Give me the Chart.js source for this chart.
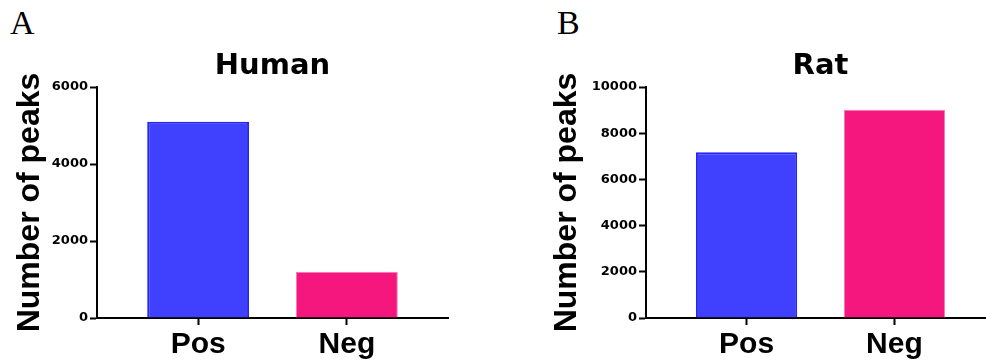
<!DOCTYPE html>
<html>
<head>
<meta charset="utf-8">
<script src="https://cdn.jsdelivr.net/npm/chart.js@4"></script>
<style>
  html, body { margin: 0; padding: 0; background: #fff; overflow: hidden; width: 986px; height: 364px; }
  canvas { position: absolute; top: 0; }
  .tag { position: absolute; top: 6px; font-family: "Liberation Serif", "Times New Roman", serif; font-size: 34px; line-height: 1; color: #000; }
</style>
</head>
<body>
<div class="tag" style="left:10px">A</div>
<div class="tag" style="left:557px">B</div>
<canvas id="chartHuman" width="493" height="364" style="left:0"></canvas>
<canvas id="chartRat" width="470" height="364" style="left:537px"></canvas>
<script>
const categories = ['Pos', 'Neg'];
const humanPeaks = [5100, 1200];
const ratPeaks = [7170, 9020];
const humanYTicks = [0, 2000, 4000, 6000];
const ratYTicks = [0, 2000, 4000, 6000, 8000, 10000];

const barFill = ['#4040ff', '#f5177d'];
const barEdge = ['#2626f2', '#f47cb2'];
const barEdgeWidth = [2, 1];

// categories sit at 1, 2 on a linear x axis so the y axis can stand off from the first bar
const catPos = categories.map((c, i) => i + 1);

function makePanel(id, title, values, yTicks, yWidth, padRight) {
  return new Chart(document.getElementById(id), {
    type: 'bar',
    data: {
      datasets: [{
        data: values.map((v, i) => ({ x: catPos[i], y: v })),
        backgroundColor: barFill,
        borderColor: barEdge,
        borderWidth: barEdgeWidth,
        borderSkipped: 'start',
        barPercentage: 0.685,
        categoryPercentage: 1
      }]
    },
    options: {
      responsive: false,
      devicePixelRatio: 1,
      animation: false,
      layout: { padding: { left: 0, right: padRight, top: 0, bottom: 0 } },
      plugins: {
        legend: { display: false },
        tooltip: { enabled: false },
        title: {
          display: true,
          text: title,
          fullSize: false,
          color: '#000',
          font: { family: 'DejaVu Sans', weight: 'bold', size: 29 },
          padding: { top: 49.5, bottom: 2.7 }
        }
      },
      scales: {
        x: {
          type: 'linear',
          offset: false,
          min: 0.32,
          max: 2.68,
          afterBuildTicks: (s) => { s.ticks = catPos.map(v => ({ value: v })); },
          afterFit: (s) => { s.height = 46; },
          border: { display: true, color: '#000', width: 2 },
          grid: { offset: false, drawOnChartArea: false, drawTicks: true, tickLength: 7, tickWidth: 2, color: '#000', tickColor: '#000' },
          ticks: {
            autoSkip: false,
            maxRotation: 0,
            padding: 2,
            color: '#000',
            font: { family: 'Liberation Sans', weight: 'bold', size: 30 },
            callback: (v, i) => categories[i]
          }
        },
        y: {
          min: yTicks[0],
          max: yTicks[yTicks.length - 1],
          afterBuildTicks: (s) => { s.ticks = yTicks.map(v => ({ value: v })); },
          afterFit: (s) => { s.width = yWidth; },
          border: { display: true, color: '#000', width: 2 },
          grid: { drawOnChartArea: false, drawTicks: true, tickLength: 7, tickWidth: 2, color: '#000', tickColor: '#000' },
          ticks: {
            padding: 2,
            color: '#000',
            font: { family: 'DejaVu Sans', weight: 'bold', size: 13 },
            callback: (v) => String(v)
          },
          title: {
            display: true,
            text: 'Number of peaks',
            color: '#000',
            font: { family: 'Liberation Sans', weight: 'bold', size: 32 },
            padding: { top: 11, bottom: 0 }
          }
        }
      }
    }
  });
}

makePanel('chartHuman', 'Human', humanPeaks, humanYTicks, 97, 45);
makePanel('chartRat', 'Rat', ratPeaks, ratYTicks, 109, 12);
</script>
</body>
</html>
